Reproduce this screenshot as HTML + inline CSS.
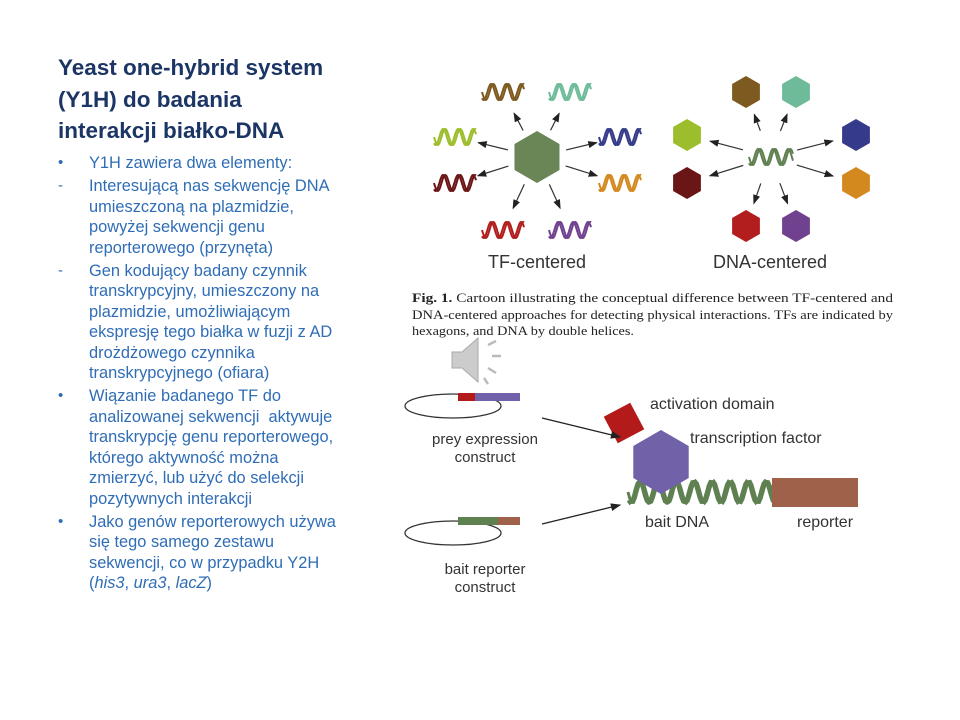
<!DOCTYPE html>
<html><head><meta charset="utf-8"><style>
body{margin:0;width:960px;height:720px;background:#fff;position:relative;overflow:hidden;font-family:"Liberation Sans",sans-serif}
#title{position:absolute;left:58px;top:52px;font-size:22.5px;font-weight:bold;color:#1b3564;line-height:31.5px}
#list{position:absolute;left:58px;top:153px;width:320px;color:#2f6db6;font-size:16.4px;line-height:20.4px;white-space:nowrap}
.it{position:relative;padding-left:31px;margin-bottom:3px}
.it span.m{position:absolute;left:0;top:0;font-size:15px}
svg{position:absolute;left:0;top:0}
</style></head><body>
<div id="title">Yeast one-hybrid system<br>(Y1H) do badania<br>interakcji białko-DNA</div>
<div id="list">
<div class="it"><span class="m">•</span>Y1H zawiera dwa elementy:</div>
<div class="it"><span class="m">-</span>Interesującą nas sekwencję DNA<br>umieszczoną na plazmidzie,<br>powyżej sekwencji genu<br>reporterowego (przynęta)</div>
<div class="it"><span class="m">-</span>Gen kodujący badany czynnik<br>transkrypcyjny, umieszczony na<br>plazmidzie, umożliwiającym<br>ekspresję tego białka w fuzji z AD<br>drożdżowego czynnika<br>transkrypcyjnego (ofiara)</div>
<div class="it"><span class="m">•</span>Wiązanie badanego TF do<br>analizowanej sekwencji&nbsp; aktywuje<br>transkrypcję genu reporterowego,<br>którego aktywność można<br>zmierzyć, lub użyć do selekcji<br>pozytywnych interakcji</div>
<div class="it"><span class="m">•</span>Jako genów reporterowych używa<br>się tego samego zestawu<br>sekwencji, co w przypadku Y2H<br>(<i>his3</i>, <i>ura3</i>, <i>lacZ</i>)</div>
</div>
<svg id="fig" width="960" height="720">
<defs><marker id="ah" markerWidth="8" markerHeight="8" refX="7" refY="4" orient="auto"><path d="M0,1 L8,4 L0,7z" fill="#222"/></marker></defs>
<g id="g"></g>
<text x="537" y="268" font-size="18" text-anchor="middle" fill="#333">TF-centered</text>
<text x="770" y="268" font-size="18" text-anchor="middle" fill="#333">DNA-centered</text>
<g font-family="Liberation Serif,serif" font-size="13" fill="#222">
<text x="412" y="302" textLength="481" lengthAdjust="spacingAndGlyphs"><tspan font-weight="bold">Fig. 1.</tspan> Cartoon illustrating the conceptual difference between TF-centered and</text>
<text x="412" y="319" textLength="481" lengthAdjust="spacingAndGlyphs">DNA-centered approaches for detecting physical interactions. TFs are indicated by</text>
<text x="412" y="335" textLength="222" lengthAdjust="spacingAndGlyphs">hexagons, and DNA by double helices.</text>
</g>
<g>
<path d="M452,352 h10 l16,-14 v44 l-16,-14 h-10z" fill="#ccc" stroke="#aaa"/>
<path d="M488,345 l8,-4 M492,356 h9 M488,368 l8,5 M484,378 l4,6" stroke="#bbb" stroke-width="2.5"/>
</g>
<ellipse cx="453" cy="406" rx="48" ry="12" fill="none" stroke="#333" stroke-width="1.3"/>
<rect x="458" y="393" width="17" height="8" fill="#b31b1b"/><rect x="475" y="393" width="45" height="8" fill="#7061a8"/>
<text x="485" y="444" font-size="15" text-anchor="middle" fill="#333">prey expression</text>
<text x="485" y="462" font-size="15" text-anchor="middle" fill="#333">construct</text>
<ellipse cx="453" cy="533" rx="48" ry="12" fill="none" stroke="#333" stroke-width="1.3"/>
<rect x="458" y="517" width="40" height="8" fill="#5f8050"/><rect x="498" y="517" width="22" height="8" fill="#a0614a"/>
<text x="485" y="574" font-size="15" text-anchor="middle" fill="#333">bait reporter</text>
<text x="485" y="592" font-size="15" text-anchor="middle" fill="#333">construct</text>
<line x1="542" y1="418" x2="620" y2="437" stroke="#222" stroke-width="1.3" marker-end="url(#ah)"/>
<line x1="542" y1="524" x2="620" y2="505" stroke="#222" stroke-width="1.3" marker-end="url(#ah)"/>
<rect x="772" y="478" width="86" height="29" fill="#a0614a"/>
<text x="650" y="409" font-size="16" fill="#333">activation domain</text>
<text x="690" y="443" font-size="16" fill="#333">transcription factor</text>
<text x="645" y="527" font-size="16" fill="#333">bait DNA</text>
<text x="797" y="527" font-size="16" fill="#333">reporter</text>
</svg>
<script>
const tfColors=['#7d5a20','#6dbb98','#9cbd2c','#353a8a','#6b1616','#d4891e','#b21e1e','#70418f'];
const g=document.getElementById('g');
const NS='http://www.w3.org/2000/svg';
function hex(cx,cy,r,fill){const p=[];for(let i=0;i<6;i++){const a=Math.PI/6+i*Math.PI/3;p.push((cx+r*Math.cos(a)).toFixed(1)+','+(cy+r*Math.sin(a)).toFixed(1));}
const e=document.createElementNS(NS,'polygon');e.setAttribute('points',p.join(' '));e.setAttribute('fill',fill);g.appendChild(e);return e;}
function helix(x,y,w,h,col,sw,per){for(const ph of [0,0.9]){let d='';for(let i=0;i<=80;i++){const t=i/80;const xx=x+t*w;const yy=y+h/2*Math.sin(t*Math.PI*2*(w/per)+ph);d+=(i?'L':'M')+xx.toFixed(1)+','+yy.toFixed(1);}
const e=document.createElementNS(NS,'path');e.setAttribute('d',d);e.setAttribute('fill','none');e.setAttribute('stroke',col);e.setAttribute('stroke-width',sw);g.appendChild(e);}}
function arrow(x1,y1,x2,y2){const e=document.createElementNS(NS,'line');e.setAttribute('x1',x1);e.setAttribute('y1',y1);e.setAttribute('x2',x2);e.setAttribute('y2',y2);e.setAttribute('stroke','#333');e.setAttribute('stroke-width','1.2');e.setAttribute('marker-end','url(#ah)');g.appendChild(e);}
const L=[[503,92],[570,92],[455,137],[620,137],[455,183],[620,183],[503,230],[570,230]];
const R=[[746,92],[796,92],[687,135],[856,135],[687,183],[856,183],[746,226],[796,226]];
function arrowsFrom(cx,cy,pts,gap){pts.forEach(([x,y])=>{const dx=x-cx,dy=y-cy,l=Math.hypot(dx,dy);arrow(cx+dx/l*gap,cy+dy/l*gap,x-dx/l*24,y-dy/l*24);});}
arrowsFrom(537,157,L,30);arrowsFrom(770,157,R,28);
hex(537,157,26,'#6a8556');
L.forEach(([x,y],i)=>helix(x-21,y,42,16,tfColors[i],2,15));
helix(749,157,44,16,'#5f8050',2,15);
R.forEach(([x,y],i)=>hex(x,y,16,tfColors[i]));
helix(628,492,146,22,'#5f8050',3,18);
hex(661,462,32,'#7061a8');
const sq=document.createElementNS(NS,'rect');sq.setAttribute('x',-15);sq.setAttribute('y',-15);sq.setAttribute('width',30);sq.setAttribute('height',30);sq.setAttribute('fill','#b31b1b');sq.setAttribute('transform','translate(624,423) rotate(-28)');


g.appendChild(sq);
</script>
</body></html>
